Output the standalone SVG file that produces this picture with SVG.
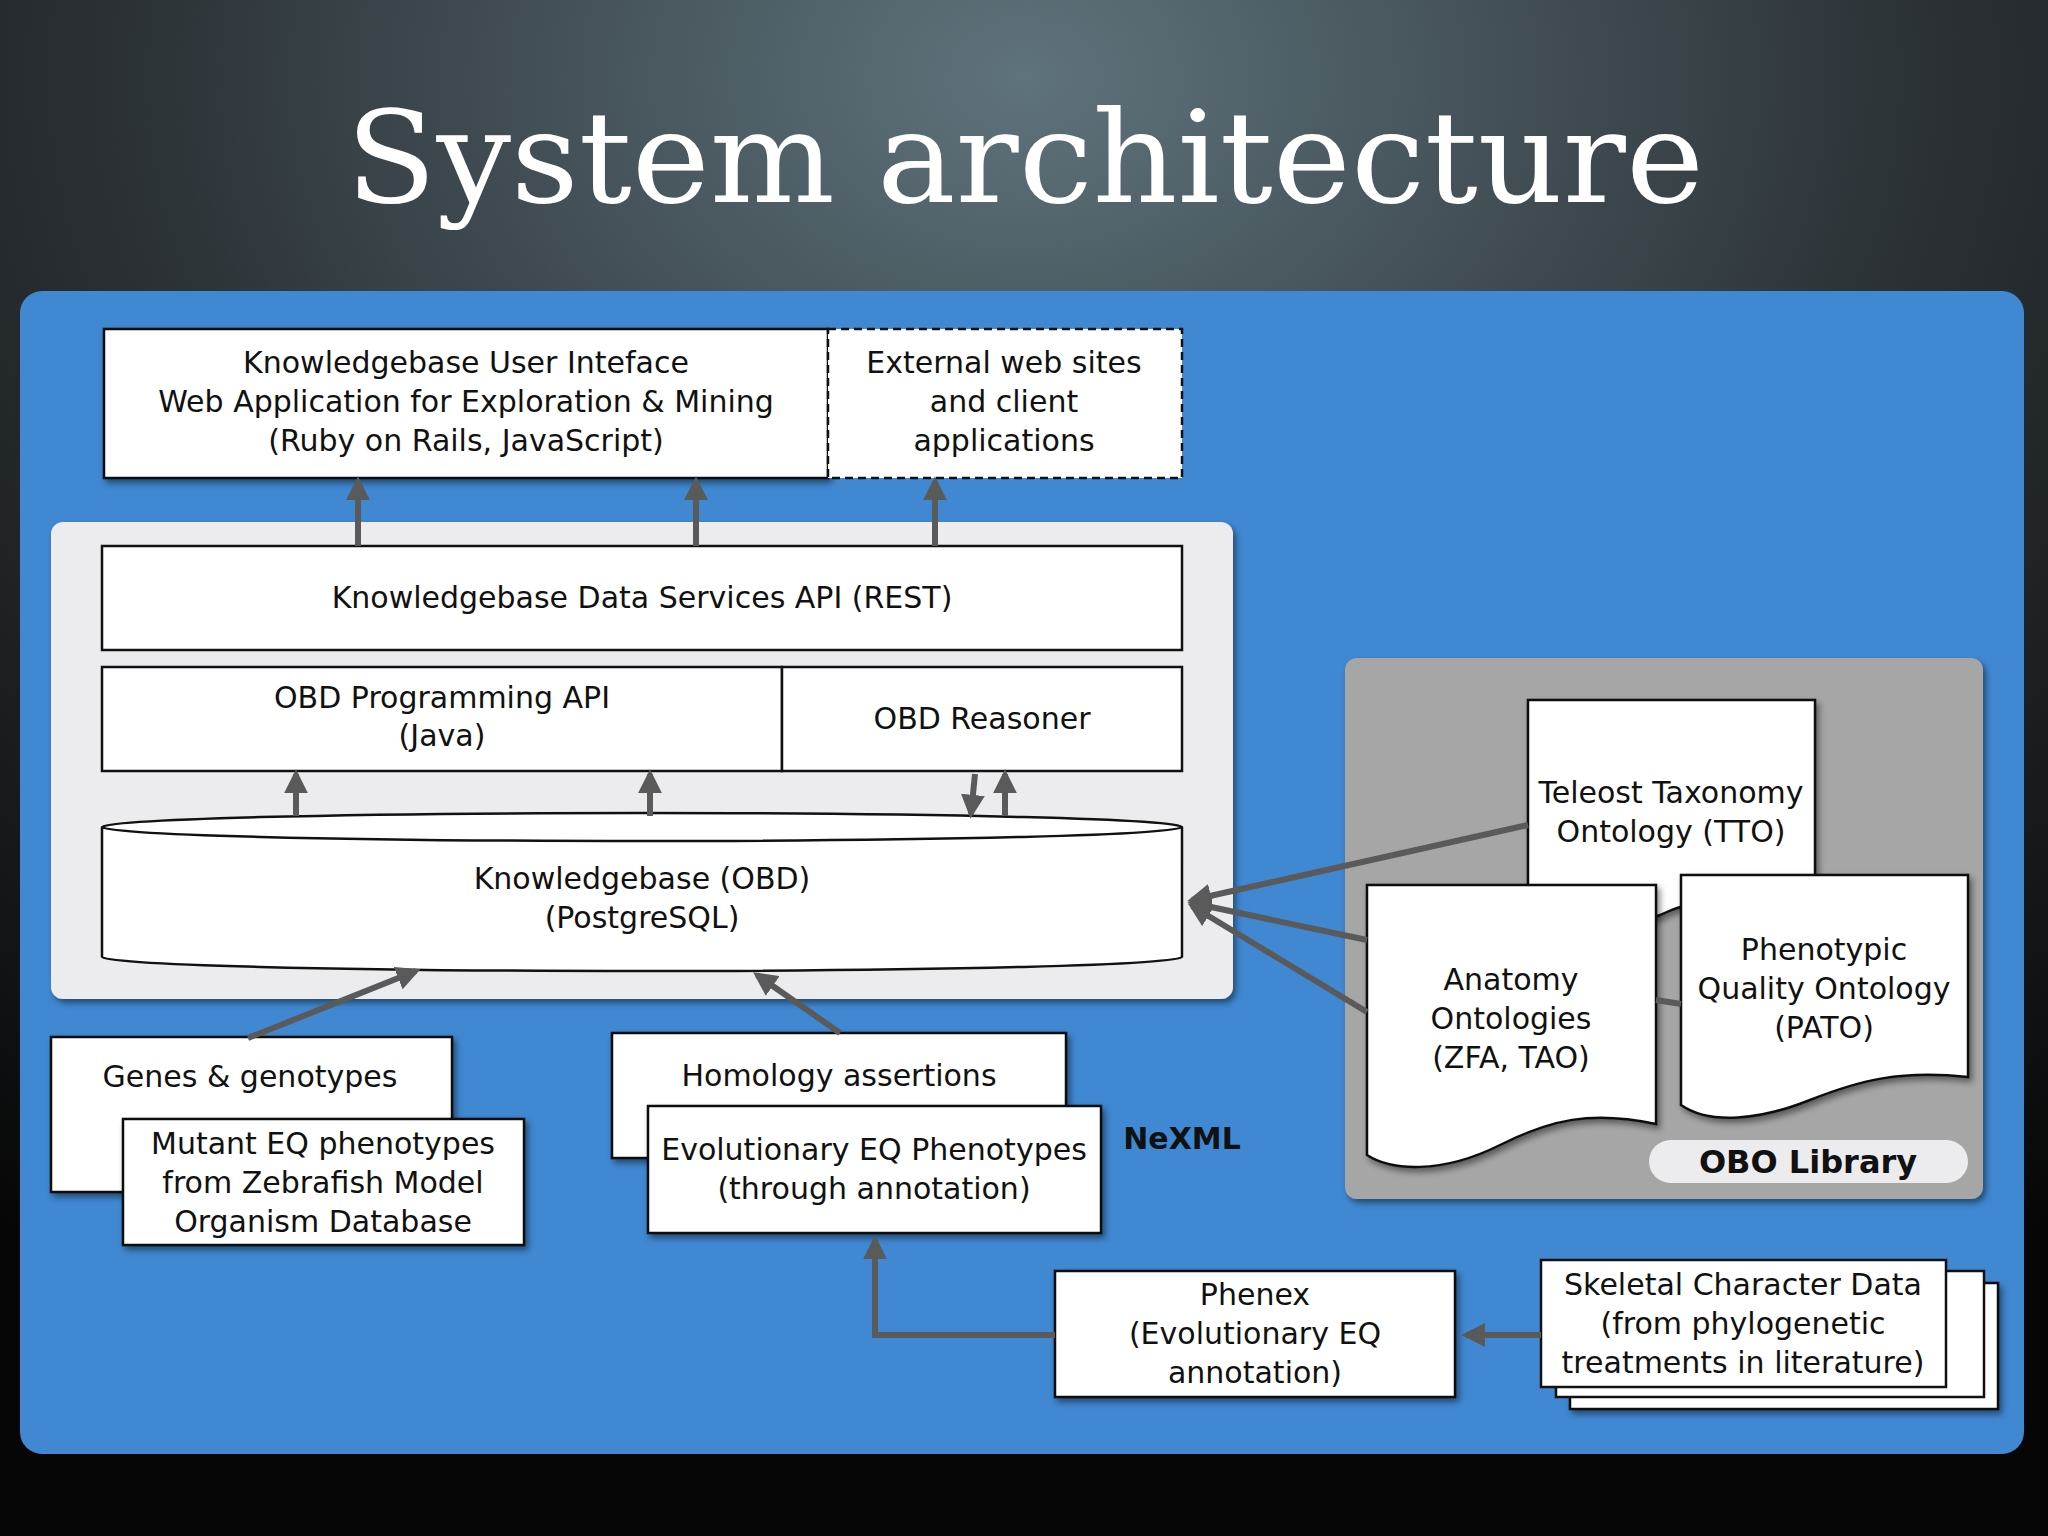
<svg xmlns="http://www.w3.org/2000/svg" width="2048" height="1536" viewBox="0 0 2048 1536">
<defs>
<radialGradient id="bg" cx="0.5" cy="0.05" r="0.9">
<stop offset="0" stop-color="#5f737c"/><stop offset="0.5" stop-color="#2a3034"/><stop offset="1" stop-color="#060606"/>
</radialGradient>
<marker id="ah" viewBox="0 0 10 10" refX="8" refY="5" markerWidth="4" markerHeight="4" orient="auto" markerUnits="strokeWidth"><path d="M0,0 L10,5 L0,10 Z" fill="#5a5a5a"/></marker>
<filter id="sh" x="-5%" y="-5%" width="115%" height="120%"><feDropShadow dx="3" dy="4" stdDeviation="3" flood-opacity="0.45"/></filter>
</defs>
<style>
.b{fill:#fff;stroke:#111;stroke-width:2.5}
.t{font-family:"DejaVu Sans",sans-serif;font-size:30px;fill:#111;text-anchor:middle}
.c{stroke:#5a5a5a;stroke-width:6;fill:none;marker-end:url(#ah)}
</style>
<rect width="2048" height="1536" fill="url(#bg)"/>
<text x="1025" y="202" font-family="DejaVu Serif,serif" font-size="128" fill="#fff" text-anchor="middle" textLength="1358" lengthAdjust="spacingAndGlyphs">System architecture</text>
<rect x="20" y="291" width="2004" height="1163" rx="22" fill="#4088d2"/>
<rect x="51" y="522" width="1182" height="477" rx="12" fill="#ececef" filter="url(#sh)"/>
<rect x="1345" y="658" width="638" height="541" rx="12" fill="#a6a6a6" filter="url(#sh)"/>

<g id="kui"><rect class="b" x="104" y="329" width="724" height="149" filter="url(#sh)"/>
<text class="t" x="466" y="373">Knowledgebase User Inteface</text><text class="t" x="466" y="412">Web Application for Exploration &amp; Mining</text><text class="t" x="466" y="451">(Ruby on Rails, JavaScript)</text></g>
<g id="ext"><rect x="828" y="329" width="354" height="149" fill="#fff" stroke="#111" stroke-width="2.5" stroke-dasharray="8,5"/>
<text class="t" x="1004" y="373">External web sites</text><text class="t" x="1004" y="412">and client</text><text class="t" x="1004" y="451">applications</text></g>
<g id="rest"><rect class="b" x="102" y="546" width="1080" height="104"/><text class="t" x="642" y="608">Knowledgebase Data Services API (REST)</text></g>
<g id="api"><rect class="b" x="102" y="667" width="680" height="104"/><text class="t" x="442" y="708">OBD Programming API</text><text class="t" x="442" y="746">(Java)</text></g>
<g id="reasoner"><rect class="b" x="782" y="667" width="400" height="104"/><text class="t" x="982" y="729">OBD Reasoner</text></g>
<g id="kb"><path class="b" d="M102,827 L102,957 A540,14 0 0 0 1182,957 L1182,827 A540,14 0 0 0 102,827 A540,14 0 0 0 1182,827"/>
<text class="t" x="642" y="889">Knowledgebase (OBD)</text><text class="t" x="642" y="928">(PostgreSQL)</text></g>

<g id="genes"><rect class="b" x="51" y="1037" width="401" height="155" filter="url(#sh)"/><text class="t" x="250" y="1087">Genes &amp; genotypes</text></g>
<g id="mutant"><rect class="b" x="123" y="1119" width="401" height="126" filter="url(#sh)"/><text class="t" x="323" y="1154">Mutant EQ phenotypes</text><text class="t" x="323" y="1193">from Zebrafish Model</text><text class="t" x="323" y="1232">Organism Database</text></g>
<g id="homology"><rect class="b" x="612" y="1033" width="454" height="125" filter="url(#sh)"/><text class="t" x="839" y="1086">Homology assertions</text></g>
<g id="evo"><rect class="b" x="648" y="1106" width="453" height="127" filter="url(#sh)"/><text class="t" x="874" y="1160">Evolutionary EQ Phenotypes</text><text class="t" x="874" y="1199">(through annotation)</text></g>
<text x="1182" y="1149" font-family="DejaVu Sans,sans-serif" font-weight="bold" font-size="30" fill="#111" text-anchor="middle">NeXML</text>
<g id="phenex"><rect class="b" x="1055" y="1271" width="400" height="126" filter="url(#sh)"/><text class="t" x="1255" y="1305">Phenex</text><text class="t" x="1255" y="1344">(Evolutionary EQ</text><text class="t" x="1255" y="1383">annotation)</text></g>
<g id="skeletal"><rect class="b" x="1570" y="1283" width="428" height="126" filter="url(#sh)"/><rect class="b" x="1556" y="1271" width="428" height="126"/><rect class="b" x="1541" y="1260" width="405" height="127"/>
<text class="t" x="1743" y="1295">Skeletal Character Data</text><text class="t" x="1743" y="1334">(from phylogenetic</text><text class="t" x="1743" y="1373">treatments in literature)</text></g>

<g id="tto"><path class="b" d="M1528,700 L1815,700 L1815,905 C1740,885 1680,905 1660,915 C1610,935 1560,930 1528,920 Z" filter="url(#sh)"/>
<text class="t" x="1671" y="803">Teleost Taxonomy</text><text class="t" x="1671" y="842">Ontology (TTO)</text></g>
<g id="pato"><path class="b" d="M1681,875 L1968,875 L1968,1077 C1900,1070 1860,1080 1810,1100 C1760,1120 1710,1125 1681,1105 Z" filter="url(#sh)"/>
<text class="t" x="1824" y="960">Phenotypic</text><text class="t" x="1824" y="999">Quality Ontology</text><text class="t" x="1824" y="1038">(PATO)</text></g>
<g id="anatomy"><path class="b" d="M1367,885 L1656,885 L1656,1124 C1590,1110 1550,1120 1500,1145 C1440,1175 1390,1170 1367,1155 Z" filter="url(#sh)"/>
<text class="t" x="1511" y="990">Anatomy</text><text class="t" x="1511" y="1029">Ontologies</text><text class="t" x="1511" y="1068">(ZFA, TAO)</text></g>
<g id="obo"><rect x="1649" y="1140" width="319" height="43" rx="21.5" fill="#ececef"/><text x="1808" y="1173" font-family="DejaVu Sans,sans-serif" font-weight="bold" font-size="32" fill="#111" text-anchor="middle">OBO Library</text></g>

<g id="connectors">
<line class="c" x1="358" y1="546" x2="358" y2="481"/>
<line class="c" x1="696" y1="546" x2="696" y2="481"/>
<line class="c" x1="935" y1="546" x2="935" y2="481"/>
<line class="c" x1="296" y1="816" x2="296" y2="774"/>
<line class="c" x1="650" y1="816" x2="650" y2="774"/>
<line class="c" x1="975" y1="774" x2="971" y2="814"/>
<line class="c" x1="1005" y1="816" x2="1005" y2="774"/>
<line class="c" x1="248" y1="1038" x2="416" y2="971"/>
<line class="c" x1="840" y1="1033" x2="757" y2="975"/>
<line class="c" x1="1528" y1="825" x2="1192" y2="900"/>
<line class="c" x1="1367" y1="940" x2="1192" y2="903"/>
<line class="c" x1="1367" y1="1012" x2="1192" y2="906"/>
<line x1="1656" y1="1000" x2="1681" y2="1004" stroke="#5a5a5a" stroke-width="6"/>
<line class="c" x1="1541" y1="1335" x2="1466" y2="1335"/>
<polyline class="c" points="1055,1335 875,1335 875,1240"/>
</g>
</svg>
